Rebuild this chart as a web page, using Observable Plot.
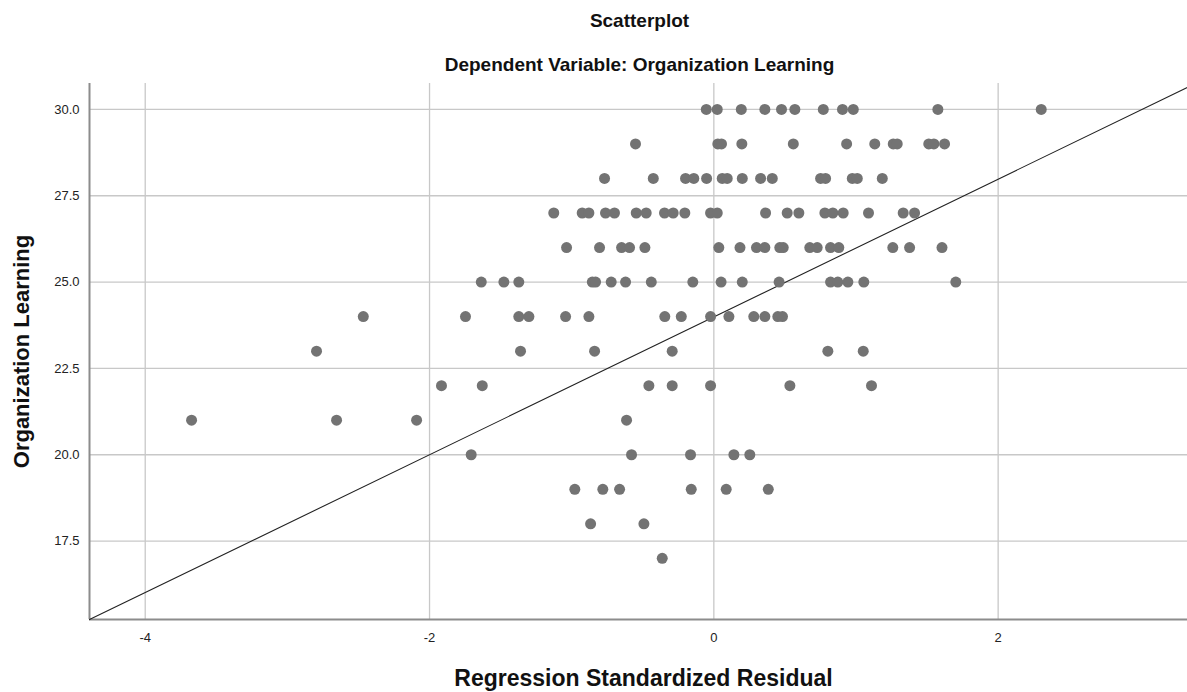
<!DOCTYPE html>
<html>
<head>
<meta charset="utf-8">
<script src="https://cdn.jsdelivr.net/npm/d3@7"></script>
<script src="https://cdn.jsdelivr.net/npm/@observablehq/plot@0.6"></script>
<style>
  html, body { margin: 0; padding: 0; background: #fff; }
  body { width: 1187px; height: 692px; overflow: hidden; font-family: "Liberation Sans", Arial, sans-serif; }
  #header { position: relative; width: 1187px; height: 83px; }
  .t { position: absolute; left: 0; width: 1187px; text-align: center; font-weight: bold; font-size: 19px; color: #111; line-height: 1; }
  #t1 { top: 11px; left: 46px; }
  #t2 { top: 55px; left: 46px; }
</style>
</head>
<body>
<div id="header">
  <div class="t" id="t1">Scatterplot</div>
  <div class="t" id="t2">Dependent Variable: Organization Learning</div>
</div>
<div id="chart"></div>
<script>
// Organization Learning score (y) -> regression standardized residuals (x) of cases
const resid30 = [-0.053, 0.024, 0.193, 0.359, 0.476, 0.570, 0.770, 0.905, 0.981, 1.576, 2.303];
const resid29 = [-0.551, 0.028, 0.054, 0.197, 0.559, 0.934, 1.132, 1.262, 1.290, 1.512, 1.548, 1.623];
const resid28 = [-0.769, -0.426, -0.199, -0.141, -0.051, 0.059, 0.094, 0.200, 0.329, 0.411, 0.751, 0.786, 0.974, 1.009, 1.185];
const resid27 = [-1.126, -0.926, -0.879, -0.762, -0.699, -0.546, -0.476, -0.347, -0.286, -0.204, -0.023, 0.024, 0.364, 0.516, 0.598, 0.781, 0.837, 0.910, 1.088, 1.332, 1.412];
const resid26 = [-1.036, -0.804, -0.649, -0.593, -0.485, 0.035, 0.184, 0.300, 0.359, 0.464, 0.488, 0.675, 0.727, 0.821, 0.879, 1.259, 1.377, 1.605];
const resid25 = [-1.636, -1.477, -1.372, -0.855, -0.832, -0.722, -0.621, -0.440, -0.148, 0.051, 0.200, 0.459, 0.821, 0.872, 0.943, 1.055, 1.702];
const resid24 = [-2.466, -1.747, -1.372, -1.301, -1.043, -0.879, -0.345, -0.229, -0.023, 0.106, 0.281, 0.359, 0.450, 0.483];
const resid23 = [-2.795, -1.360, -0.839, -0.293, 0.802, 1.051];
const resid22 = [-1.916, -1.629, -0.457, -0.293, -0.023, 0.535, 1.109];
const resid21 = [-3.674, -2.654, -2.091, -0.614];
const resid20 = [-1.707, -0.579, -0.164, 0.141, 0.253];
const resid19 = [-0.978, -0.781, -0.663, -0.159, 0.087, 0.383];
const resid18 = [-0.867, -0.492];
const resid17 = [-0.363];

const scoreLevels = [30, 29, 28, 27, 26, 25, 24, 23, 22, 21, 20, 19, 18, 17];
const residByLevel = [resid30, resid29, resid28, resid27, resid26, resid25, resid24, resid23, resid22, resid21, resid20, resid19, resid18, resid17];

// Fit (reference) line
const fitIntercept = 23.99;
const fitSlope = 1.995;

const xDomain = [-4.392, 3.332];
const yDomain = [15.23, 30.75];
const xTicks = [-4, -2, 0, 2];
const yTicks = [17.5, 20, 22.5, 25, 27.5, 30];

const points = scoreLevels.flatMap((lvl, i) => residByLevel[i].map(r => ({resid: r, score: lvl})));
const fitLine = xDomain.map(x => ({resid: x, score: fitIntercept + fitSlope * x}));

const font = '"Liberation Sans", Arial, sans-serif';

const chart = Plot.plot({
  width: 1187,
  height: 609,
  marginLeft: 89,
  marginRight: 0,
  marginTop: 0,
  marginBottom: 73,
  style: {fontFamily: font, fontSize: "13px", color: "#222", background: "#fff", overflow: "visible"},
  x: {domain: xDomain, ticks: xTicks},
  y: {domain: yDomain, ticks: yTicks},
  marks: [
    Plot.gridX(xTicks, {stroke: "#c8c8c8", strokeOpacity: 1, strokeWidth: 1.3}),
    Plot.gridY(yTicks, {stroke: "#c8c8c8", strokeOpacity: 1, strokeWidth: 1.3}),
    Plot.ruleX([xDomain[0]], {stroke: "#8c8c8c", strokeWidth: 2}),
    Plot.ruleY([yDomain[0]], {stroke: "#8c8c8c", strokeWidth: 2}),
    Plot.axisX(xTicks, {tickSize: 0, tickPadding: 13, label: null, fontSize: 13, tickFormat: d => String(d)}),
    Plot.axisY(yTicks, {tickSize: 0, tickPadding: 10, label: null, fontSize: 13, tickFormat: d3.format(".1f")}),
    Plot.line(fitLine, {x: "resid", y: "score", stroke: "#222", strokeWidth: 1.1}),
    Plot.dot(points, {x: "resid", y: "score", r: 5.5, fill: "#737373", stroke: null}),
    Plot.text(["Regression Standardized Residual"], {frameAnchor: "bottom", dy: 59, dx: 5, lineAnchor: "middle", textAnchor: "middle", text: d => d, fontSize: 23, fontWeight: "bold", fill: "#111"}),
    Plot.text(["Organization Learning"], {frameAnchor: "left", dx: -68, rotate: -90, lineAnchor: "middle", textAnchor: "middle", text: d => d, fontSize: 22, fontWeight: "bold", fill: "#111"})
  ]
});
document.getElementById("chart").appendChild(chart);
</script>
</body>
</html>
